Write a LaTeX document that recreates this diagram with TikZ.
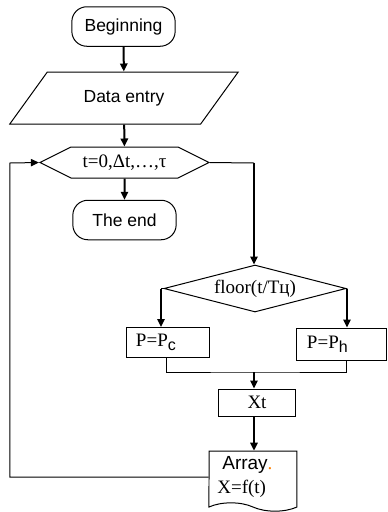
\documentclass[tikz,border=0pt]{standalone}
\usepackage{fontspec}
\setmainfont{Liberation Serif}
\newfontfamily\arialfont{Liberation Sans}
\usetikzlibrary{shapes.geometric, shapes.symbols, arrows.meta, positioning}
\newcommand{\lowsub}[1]{\raisebox{-2.4pt}{\arialfont\fontsize{9.6}{11}\selectfont #1}}
\tikzset{
	sanslabel/.style={font=\arialfont\fontsize{10.5}{12}\selectfont},
	startstop/.style={rectangle, rounded corners=9pt, minimum width=62pt, minimum height=23.7pt, text centered, align=center, draw=black, line width=0.6pt, sanslabel},
	io/.style       ={trapezium, trapezium left angle=50, trapezium right angle=130, trapezium stretches=true, minimum width=138pt, minimum height=31.2pt, text centered, draw=black, line width=0.6pt, sanslabel},
	prep/.style     ={signal, signal to=west and east, signal pointer angle=53, minimum width=101.4pt, minimum height=18.6pt, inner sep=1pt, draw=black, line width=0.6pt},
	decision/.style ={diamond, aspect=3.9, minimum width=109.2pt, minimum height=28.2pt, inner sep=0pt, draw=black, line width=0.6pt},
	process/.style  ={rectangle, minimum height=18pt, inner xsep=6pt, align=left, draw=black, line width=0.6pt},
	docu/.style     ={tape, tape bend top=none, tape bend bottom=out and in, tape bend height=5pt, minimum width=52.8pt, minimum height=36pt, inner xsep=5pt, align=left, draw=black, line width=0.6pt},
	flowarrow/.style={-{Triangle[length=4.8pt, width=4.4pt]}, line width=1.2pt},
	link/.style     ={line width=0.6pt},
}

\begin{document}
\begin{tikzpicture}[x=0.6pt, y=-0.6pt, font=\fontsize{11.4}{14}\selectfont]
	\useasboundingbox (0,0) rectangle (388,512);
	% main column
	\node[startstop] (begin) at (123.5,26.5) {Beginning};
	\node[io] (entry) at (124,98) {Data entry};
	\node[prep] (loop) at (124.5,162.5) {t=0,Δt,…,τ};
	\node[startstop] (finish) at (124.5,220) {The end};
	% loop body
	\node[decision] (floor) at (255,288.5) {floor(t/Tц)};
	\node[process, text width=38.4pt] (pc) at (168,342.5) {P=P\lowsub{c}};
	\node[process, text width=42pt, minimum height=19.2pt] (ph) at (342,344) {P=P\lowsub{h}};
	\node[rectangle, draw=black, line width=0.6pt, minimum width=46.2pt, minimum height=16.2pt] (xt) at (257,402.5) {Xt};
	\node[docu, text width=42.8pt] (store) at (253,477) {\hspace{3pt}{\arialfont Array}{\color{orange}.}\\X=f(t)};

	\coordinate (trunk) at (254,163);
	\coordinate (lbr) at (161,288.5);
	\coordinate (rbr) at (347,288.5);
	\coordinate (merge) at (254,372);
	\coordinate (back) at (10,163);

	\draw[flowarrow] (begin) -- (entry);
	\draw[flowarrow] (entry) -- (loop);
	\draw[flowarrow] (loop) -- (finish);
	\draw[link] (loop.east) -- (trunk);
	\draw[flowarrow] (trunk) -- (trunk |- floor.north);
	% branches of the decision
	\draw[link] (floor.west) -- (lbr);
	\draw[link] (floor.east) -- (rbr);
	\draw[flowarrow] (lbr) -- (lbr |- pc.north);
	\draw[flowarrow] (rbr) -- (rbr |- ph.north);
	\draw[link] ([xshift=-0.6pt]pc.south) |- (merge) -| (rbr |- ph.south);
	\draw[flowarrow] (merge) -- (merge |- xt.north);
	\draw[flowarrow] (merge |- xt.south) -- (merge |- store.north);
	% back to the loop header
	\draw[link, -{Triangle[length=4.8pt, width=4.4pt]}] (store.west) -| (back) -- (loop.west);
\end{tikzpicture}
\end{document}
